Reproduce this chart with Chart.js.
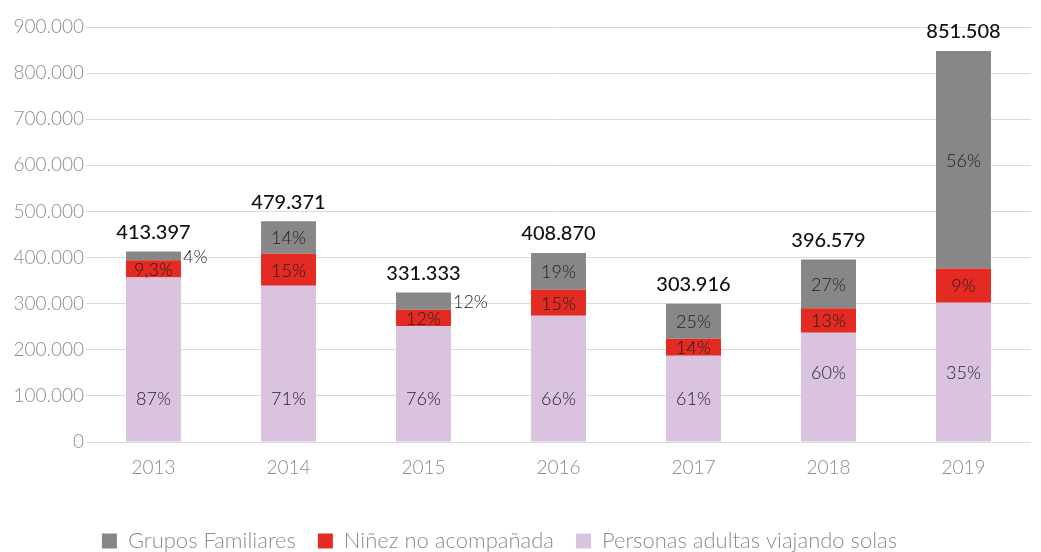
<!DOCTYPE html>
<html>
<head>
<meta charset="utf-8">
<script src="https://cdn.jsdelivr.net/npm/chart.js@4.4.1/dist/chart.umd.min.js"></script>
<style>
html,body{margin:0;padding:0;background:#fff;}
#wrap{width:1041px;height:552px;}
</style>
</head>
<body>
<div id="wrap"><canvas id="c" width="1041" height="552"></canvas></div>
<script>
const years = ['2013','2014','2015','2016','2017','2018','2019'];
const adults = [357000, 339000, 251000, 274000, 187000, 237000, 302000];
const children = [37000, 69000, 36000, 56000, 37000, 53000, 74000];
const families = [19000, 71000, 37000, 80000, 76000, 106000, 472000];
const totalLabels = ['413.397','479.371','331.333','408.870','303.916','396.579','851.508'];
const adultPct = ['87%','71%','76%','66%','61%','60%','35%'];
const childPct = ['9,3%','15%','12%','15%','14%','13%','9%'];
const familyPct = ['4%','14%','12%','19%','25%','27%','56%'];
const familyOutside = [true,false,true,false,false,false,false];
const adultLabelAt = [95000,95000,95000,95000,95000,152000,152000];
const yTicks = [0,100000,200000,300000,400000,500000,600000,700000,800000,900000];

const FONT = "Lato, 'Open Sans', 'Noto Sans', sans-serif";
const fmt = v => String(v).replace(/\B(?=(\d{3})+(?!\d))/g, '.');

const labelPlugin = {
  id: 'labels',
  afterLayout(chart) {
    if (chart.legend) { chart.legend.left -= 16; chart.legend.right -= 16; }
  },
  afterDatasetsDraw(chart) {
    const ctx = chart.ctx;
    const ys = chart.scales.y;
    const pcts = [adultPct, childPct, familyPct];
    ctx.save();
    ctx.textBaseline = 'middle';
    ctx.fillStyle = '#1e1e1e';
    ctx.font = "300 18px " + FONT;
    for (let d = 0; d < 3; d++) {
      const meta = chart.getDatasetMeta(d);
      meta.data.forEach((el, i) => {
        let x = el.x, y = (el.y + el.base) / 2;
        ctx.textAlign = 'center';
        if (d === 0) y = ys.getPixelForValue(adultLabelAt[i]);
        if (d === 2 && familyOutside[i]) { x = el.x + el.width / 2 + 2; ctx.textAlign = 'left'; }
        ctx.fillText(pcts[d][i], x, y + 1);
      });
    }
    ctx.font = "500 20px " + FONT;
    ctx.fillStyle = '#111';
    ctx.textAlign = 'center';
    const top = chart.getDatasetMeta(2);
    top.data.forEach((el, i) => {
      ctx.fillText(totalLabels[i], el.x, el.y - 19);
    });
    ctx.restore();
  }
};

new Chart(document.getElementById('c'), {
  type: 'bar',
  data: {
    labels: years,
    datasets: [
      { label: 'Personas adultas viajando solas', data: adults, backgroundColor: '#d9c3df' },
      { label: 'Niñez no acompañada', data: children, backgroundColor: '#e32b24' },
      { label: 'Grupos Familiares', data: families, backgroundColor: '#878787' }
    ]
  },
  options: {
    responsive: false,
    animation: false,
    layout: { padding: { top: 27, right: 10, left: 0, bottom: -10 } },
    datasets: { bar: { categoryPercentage: 1, barPercentage: 0.407 } },
    scales: {
      x: {
        stacked: true,
        grid: { display: false, drawTicks: false },
        border: { display: false },
        ticks: { color: '#8c8c8c', font: { family: FONT, size: 19, weight: 300 }, padding: 14 },
        afterFit(s) { s.height = 66; }
      },
      y: {
        stacked: true,
        min: 0, max: 900000,
        afterBuildTicks(s) { s.ticks = yTicks.map(v => ({ value: v })); },
        grid: { color: '#d9d9d9', lineWidth: 1, drawTicks: false },
        border: { display: false },
        ticks: { color: '#8c8c8c', font: { family: FONT, size: 19, weight: 300 }, padding: 2, callback: v => fmt(v) },
        afterFit(s) { s.width = 86; }
      }
    },
    plugins: {
      legend: {
        position: 'bottom',
        reverse: true,
        labels: { boxWidth: 15, boxHeight: 15, padding: 22, color: '#8c8c8c', font: { family: FONT, size: 22, weight: 300 } }
      },
      tooltip: { enabled: false }
    }
  },
  plugins: [labelPlugin]
});
</script>
</body>
</html>
